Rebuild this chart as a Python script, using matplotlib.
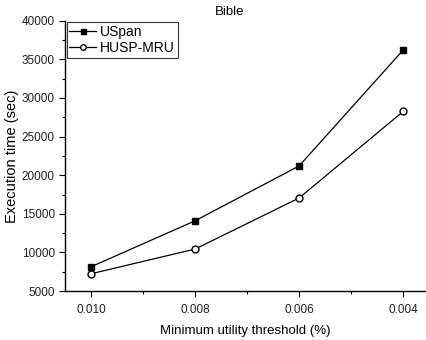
import matplotlib
matplotlib.use("Agg")
import matplotlib.pyplot as plt
from matplotlib.ticker import MultipleLocator

plt.rcParams["font.family"] = ["Liberation Sans", "DejaVu Sans"]

thresholds = ["0.010", "0.008", "0.006", "0.004"]
uspan = [8150, 14100, 21200, 36200]
husp_mru = [7240, 10440, 17050, 28250]

fig = plt.figure(figsize=(4.26, 3.40), dpi=100)
ax = fig.add_axes([0.153, 0.144, 0.847, 0.795])

x = range(len(thresholds))
ax.plot(x, uspan, color="black", lw=0.9, marker="s", ms=4.5,
        mfc="black", mec="black", label="USpan")
ax.plot(x, husp_mru, color="black", lw=0.9, marker="o", ms=5,
        mfc="white", mec="black", label="HUSP-MRU")

ax.set_xlim(-0.25, 3.22)
ax.set_ylim(5000, 40000)
ax.set_xticks(list(x))
ax.set_xticklabels(thresholds)
ax.set_xticks([0.5, 1.5, 2.5], minor=True)
ax.yaxis.set_major_locator(MultipleLocator(5000))
ax.yaxis.set_minor_locator(MultipleLocator(2500))

for side in ["top", "right"]:
    ax.spines[side].set_visible(False)
for side in ["left", "bottom"]:
    ax.spines[side].set_linewidth(1.0)

ax.tick_params(which="major", direction="out", length=4, width=0.8,
               labelsize=8.5, colors="black", labelcolor="#222222")
ax.tick_params(which="minor", direction="out", length=2.5, width=0.8)
ax.tick_params(axis="x", pad=5)

ax.set_xlabel("Minimum utility threshold (%)", fontsize=9.5, labelpad=7)
ax.set_ylabel("Execution time (sec)", fontsize=10.5, labelpad=2)
ax.set_title("Bible", fontsize=9.5, pad=4, x=0.455)

leg = ax.legend(loc="upper left", fontsize=10, frameon=True, fancybox=False,
                edgecolor="black", borderpad=0.2, handlelength=1.9,
                handletextpad=0.3, labelspacing=0.15, borderaxespad=0.1,
                markerscale=0.8)
leg.get_frame().set_linewidth(0.8)

plt.savefig("out.png", dpi=100)
